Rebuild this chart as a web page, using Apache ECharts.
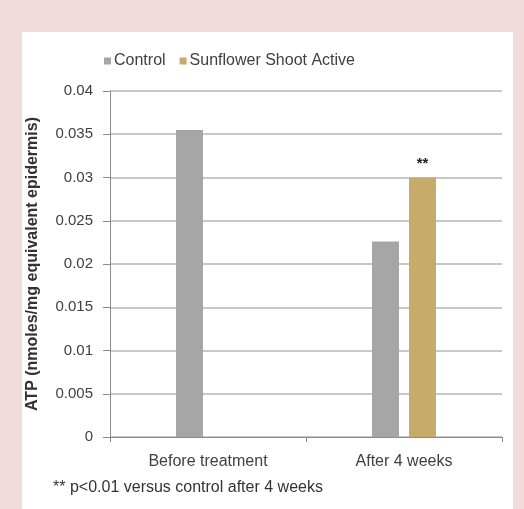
<!DOCTYPE html>
<html>
<head>
<meta charset="utf-8">
<script src="https://cdn.jsdelivr.net/npm/echarts@6/dist/echarts.min.js"></script>
<style>
html,body{margin:0;padding:0;background:#f2dcdb;width:524px;height:509px;overflow:hidden;}
#panel{position:absolute;left:22px;top:32px;width:491px;height:477px;background:#ffffff;}
#chart{position:absolute;left:0;top:0;width:524px;height:509px;}
</style>
</head>
<body>
<div id="panel"></div>
<div id="chart"></div>
<script>
const categories = ['Before treatment', 'After 4 weeks'];
const controlValues = [0.0355, 0.0226];
const sunflowerValues = [null, 0.0300];
const sunflowerMarks = ['', '**'];
const seriesNames = ['Control', 'Sunflower Shoot Active'];
const yAxisTitle = 'ATP (nmoles/mg equivalent epidermis)';
const footnote = '** p<0.01 versus control after 4 weeks';

const font = 'Liberation Sans, Arial, sans-serif';
const chart = echarts.init(document.getElementById('chart'), null, {renderer: 'canvas'});
chart.setOption({
  backgroundColor: 'transparent',
  animation: false,
  textStyle: {fontFamily: font},
  legend: {
    left: 104, top: 53, padding: 0,
    icon: 'rect', itemWidth: 7, itemHeight: 7, itemGap: 14,
    textStyle: {fontSize: 16, color: '#404040', fontFamily: font, padding: [0,0,0,-2]},
    data: seriesNames
  },
  grid: {left: 110, right: 22, top: 91, bottom: 72},
  xAxis: {
    type: 'category',
    data: categories,
    axisLine: {lineStyle: {color: '#8c8c8c', width: 1}},
    axisTick: {show: true, length: 5, lineStyle: {color: '#8c8c8c'}},
    axisLabel: {fontSize: 16, color: '#404040', margin: 17, fontFamily: font}
  },
  yAxis: {
    type: 'value',
    min: 0, max: 0.04, interval: 0.005,
    name: yAxisTitle,
    nameLocation: 'middle',
    nameRotate: 90,
    nameGap: 69,
    nameTextStyle: {fontSize: 16, fontWeight: 'bold', color: '#333333', fontFamily: font},
    axisLine: {show: true, lineStyle: {color: '#8c8c8c'}},
    axisTick: {show: true, length: 7, lineStyle: {color: '#8c8c8c'}},
    axisLabel: {fontSize: 15, color: '#404040', margin: 17, fontFamily: font},
    splitLine: {lineStyle: {color: '#c8c8c8', width: 2}}
  },
  series: [
    {
      name: seriesNames[0], type: 'bar', data: controlValues,
      barWidth: 27, barGap: '37%',
      itemStyle: {color: '#a6a6a6'}
    },
    {
      name: seriesNames[1], type: 'bar', data: sunflowerValues,
      barWidth: 27,
      itemStyle: {color: '#c6ab6b'},
      label: {
        show: true, position: 'top', distance: 6,
        formatter: p => sunflowerMarks[p.dataIndex],
        fontSize: 15, fontWeight: 'bold', color: '#222222', fontFamily: font
      }
    }
  ],
  graphic: [{
    type: 'text', left: 53, top: 480,
    style: {text: footnote, fontSize: 16, fill: '#333333', fontFamily: font}
  }]
});
</script>
</body>
</html>
